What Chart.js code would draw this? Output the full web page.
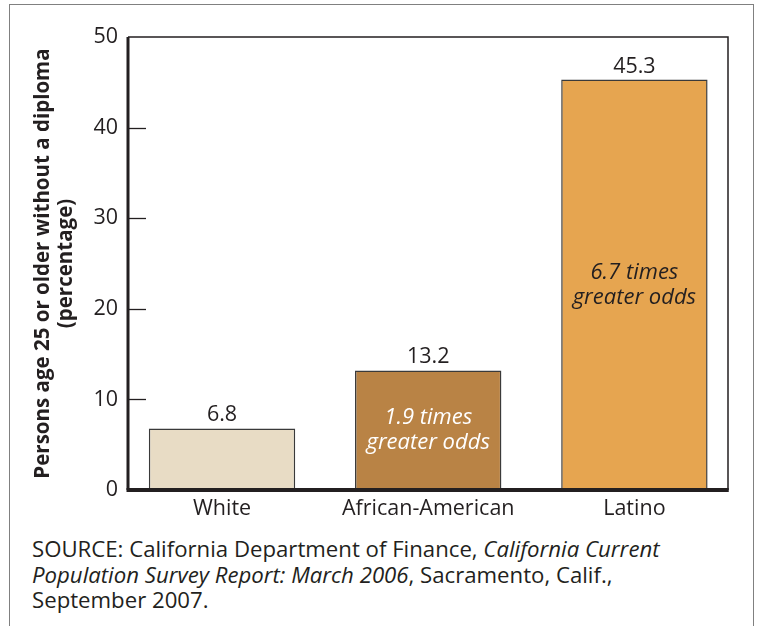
<!DOCTYPE html>
<html>
<head>
<meta charset="utf-8">
<script src="https://cdn.jsdelivr.net/npm/chart.js@4"></script>
<style>
  html, body { margin: 0; padding: 0; background: #fff; overflow: hidden; }
  body { width: 760px; height: 626px; position: relative; font-family: "Open Sans", sans-serif; }
  .frame { position: absolute; left: 9px; top: 4px; width: 743px; height: 700px; border: 1.5px solid #808080; border-bottom: none; }
  #chartId { position: absolute; left: 0; top: 0; }
  .source { position: absolute; left: 32px; top: 536px; font-size: 22.2px; line-height: 25.5px; color: #231f20; }
</style>
</head>
<body>
<div class="frame"></div>
<canvas id="chartId" width="760" height="530"></canvas>
<div class="source">SOURCE: California Department of Finance, <i>California Current<br>Population Survey Report: March 2006</i>, Sacramento, Calif.,<br>September 2007.</div>
<script>
const CATEGORIES = ['White', 'African-American', 'Latino']
const VALUES = [6.8, 13.2, 45.3]
const BAR_COLORS = ['#e8dcc5', '#b98345', '#e6a550']
const NOTES = [[], ['1.9 times', 'greater odds'], ['6.7 times', 'greater odds']]
const NOTE_COLORS = ['#231f20', '#ffffff', '#231f20']
const Y_TICKS = [0, 10, 20, 30, 40, 50]
const Y_TITLE = ['Persons age 25 or older without a diploma', '(percentage)']

const INK = '#231f20'
const FONT = '"Open Sans", sans-serif'

// frame, thick axes and the inward tick marks
const boxPlugin = {
  id: 'box',
  afterDatasetsDraw(chart) {
    const ctx = chart.ctx
    const a = chart.chartArea
    const y = chart.scales.y
    ctx.save()
    ctx.strokeStyle = INK
    ctx.lineWidth = 1.5
    ctx.beginPath()
    ctx.moveTo(a.left, a.top)
    ctx.lineTo(a.right, a.top)
    ctx.lineTo(a.right, a.bottom)
    ctx.stroke()

    ctx.lineWidth = 1.3
    Y_TICKS.slice(1, -1).forEach(t => {
      const py = Math.round(y.getPixelForValue(t)) + 0.5
      ctx.beginPath()
      ctx.moveTo(a.left, py)
      ctx.lineTo(a.left + 18, py)
      ctx.stroke()
    })

    ctx.lineWidth = 3
    ctx.beginPath()
    ctx.moveTo(a.left, a.top)
    ctx.lineTo(a.left, a.bottom)
    ctx.stroke()
    ctx.lineWidth = 4
    ctx.beginPath()
    ctx.moveTo(a.left - 1.5, a.bottom)
    ctx.lineTo(a.right + 0.75, a.bottom)
    ctx.stroke()
    ctx.restore()
  }
}

// value above each bar, note inside
const labelPlugin = {
  id: 'labels',
  afterDatasetsDraw(chart) {
    const ctx = chart.ctx
    const meta = chart.getDatasetMeta(0)
    ctx.save()
    ctx.textAlign = 'center'
    meta.data.forEach((bar, i) => {
      ctx.fillStyle = INK
      ctx.font = '21.5px ' + FONT
      ctx.textBaseline = 'alphabetic'
      ctx.fillText(VALUES[i].toFixed(1), bar.x, bar.y - 7)

      const lines = NOTES[i]
      if (lines.length) {
        const mid = (bar.y + bar.base) / 2
        ctx.fillStyle = NOTE_COLORS[i]
        ctx.font = 'italic 22px ' + FONT
        ctx.textBaseline = 'middle'
        lines.forEach((l, k) => {
          ctx.fillText(l, bar.x, mid + (k - (lines.length - 1) / 2) * 25)
        })
      }
    })
    ctx.restore()
  }
}

const bar = document.getElementById('chartId')

const barChart = new Chart(bar, {
  type: 'bar',
  data: {
    datasets: [{
      data: VALUES.map((v, i) => ({ x: i, y: v })),
      backgroundColor: BAR_COLORS,
      borderColor: '#3a3a3a',
      borderWidth: 1.5,
      barPercentage: 0.71,
      categoryPercentage: 1
    }]
  },
  options: {
    responsive: false,
    animation: false,
    layout: { padding: { left: 0, top: 37, right: 32, bottom: 0 } },
    plugins: {
      legend: { display: false },
      tooltip: { enabled: false }
    },
    scales: {
      x: {
        type: 'linear',
        offset: false,
        min: -0.456,
        max: 2.454,
        afterBuildTicks: s => { s.ticks = CATEGORIES.map((c, i) => ({ value: i })) },
        afterFit: s => { s.height = 40 },
        grid: { display: false, drawTicks: false },
        border: { display: false },
        ticks: {
          padding: 6,
          color: INK,
          font: { family: FONT, size: 21.5 },
          callback: v => CATEGORIES[v]
        }
      },
      y: {
        min: 0,
        max: 50,
        afterBuildTicks: s => { s.ticks = Y_TICKS.map(v => ({ value: v })) },
        afterFit: s => { s.width = 128 },
        grid: { display: false, drawTicks: false },
        border: { display: false },
        ticks: {
          padding: 10,
          color: INK,
          font: { family: FONT, size: 21.5 }
        },
        title: {
          display: true,
          text: Y_TITLE,
          color: INK,
          font: { family: FONT, size: 20.5, weight: 'bold', lineHeight: 1.1 },
          padding: { top: 32, bottom: 0 }
        }
      }
    }
  },
  plugins: [boxPlugin, labelPlugin]
})
</script>
</body>
</html>
